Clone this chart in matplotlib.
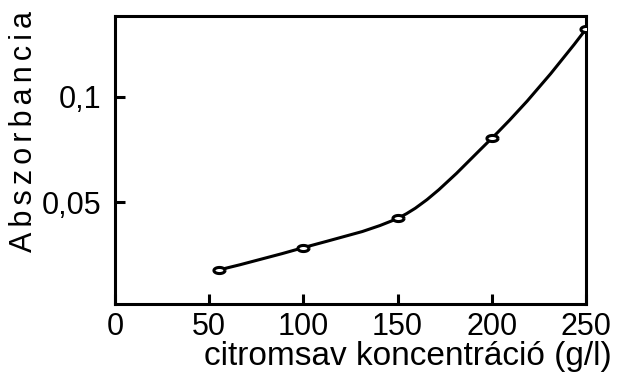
import numpy as np
import matplotlib
matplotlib.use("Agg")
import matplotlib.pyplot as plt
from matplotlib.path import Path
from matplotlib.patches import PathPatch

# data
conc = [55, 100, 150, 200, 250]
absorb = [0.0179, 0.0285, 0.0424, 0.0803, 0.132]
xticks = [0, 50, 100, 150, 200, 250]
yticks = [0.05, 0.1]
ytick_labels = ["0,05", "0,1"]

plt.rcParams['font.family'] = ['Liberation Sans', 'DejaVu Sans']


def smooth_path(xs, ys):
    # monotone (pchip style) hermite curve through the points, as bezier segments
    x = np.asarray(xs, float)
    y = np.asarray(ys, float)
    n = len(x)
    h = np.diff(x)
    s = np.diff(y) / h
    d = np.zeros(n)
    for i in range(1, n - 1):
        w1 = 2 * h[i] + h[i - 1]
        w2 = h[i] + 2 * h[i - 1]
        d[i] = (w1 + w2) / (w1 / s[i - 1] + w2 / s[i])
    d[0] = ((2 * h[0] + h[1]) * s[0] - h[0] * s[1]) / (h[0] + h[1])
    d[-1] = ((2 * h[-1] + h[-2]) * s[-1] - h[-1] * s[-2]) / (h[-1] + h[-2])
    verts = [(x[0], y[0])]
    codes = [Path.MOVETO]
    for i in range(n - 1):
        verts += [(x[i] + h[i] / 3, y[i] + h[i] / 3 * d[i]),
                  (x[i + 1] - h[i] / 3, y[i + 1] - h[i] / 3 * d[i + 1]),
                  (x[i + 1], y[i + 1])]
        codes += [Path.CURVE4] * 3
    return Path(verts, codes)


t = np.linspace(0, 2 * np.pi, 41)
ellipse = Path(np.column_stack([np.cos(t), 0.55 * np.sin(t)]))

fig = plt.figure(figsize=(6.18, 3.78), dpi=100)
ax = fig.add_axes([0.1861, 0.1958, 0.7621, 0.763])

ax.add_patch(PathPatch(smooth_path(conc, absorb), facecolor='none',
                       edgecolor='black', lw=2.2, zorder=2))
ax.plot(conc, absorb, linestyle='none', marker=ellipse, markersize=8,
        mfc='white', mec='black', mew=2.2, zorder=3)

ax.set_xlim(0, 250)
ax.set_ylim(0.0018, 0.1384)
ax.set_xticks(xticks)
ax.set_xticklabels([str(v) for v in xticks])
ax.set_yticks(yticks)
ax.set_yticklabels(ytick_labels)

for sp in ax.spines.values():
    sp.set_linewidth(2.2)
ax.tick_params(direction='in', length=7.5, width=2.2, labelsize=22)
ax.tick_params(axis='x', pad=6)
ax.tick_params(axis='y', pad=10)

fig.text(24 / 618, 1 - 132 / 378, "\u2006".join("Abszorbancia"),
         rotation=90, ha='center', va='center', fontsize=22)
fig.text(408 / 618, 1 - 357 / 378, "citromsav koncentráció (g/l)",
         ha='center', va='center', fontsize=24)

fig.savefig("out.png", dpi=100)
